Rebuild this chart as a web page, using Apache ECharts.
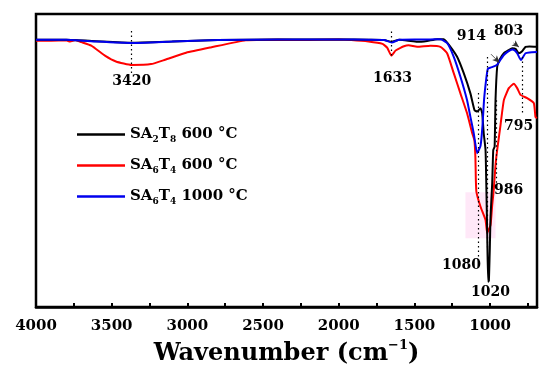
<!DOCTYPE html>
<html>
<head>
<meta charset="utf-8">
<script src="https://cdn.jsdelivr.net/npm/echarts@6/dist/echarts.min.js"></script>
<style>html,body{margin:0;padding:0;background:#fff}#c{width:550px;height:376px}</style>
</head>
<body>
<div id="c"></div>
<script>
const xTickValues = [750, 1000, 1250, 1500, 1750, 2000, 2250, 2500, 2750, 3000, 3250, 3500, 3750];
const xLabelValues = [1000, 1500, 2000, 2500, 3000, 3500, 4000];

const seriesNames = ['SA2T8 600 °C', 'SA6T4 600 °C', 'SA6T4 1000 °C'];

const blackX = [4000, 3800, 3600, 3370, 3100, 2800, 2400, 2000, 1800, 1700, 1650, 1600, 1540, 1482, 1416, 1350, 1306, 1262, 1218, 1174, 1130, 1103, 1085, 1063, 1052, 1042, 1030, 1025, 1019, 1013, 1008, 1002, 997, 986, 979, 970, 964, 953, 938, 909, 876, 854, 830, 810, 788, 766, 740, 690];
const blackY = [91.2, 91.2, 90.7, 90.2, 90.6, 91.1, 91.3, 91.3, 91.2, 91.1, 90.5, 91.2, 90.9, 90.5, 90.8, 91.4, 91.4, 88.8, 85.4, 79.8, 72.9, 67.2, 66.7, 67.8, 66.1, 59.3, 53.6, 42.0, 25.2, 8.6, 9.0, 19.5, 30.8, 42.2, 53.6, 54.7, 70.6, 82.0, 84.3, 86.6, 87.7, 88.3, 88.0, 86.6, 87.3, 88.8, 88.9, 88.8];

const redX = [4000, 3900, 3800, 3775, 3740, 3700, 3635, 3542, 3472, 3368, 3240, 3147, 3008, 2846, 2614, 2400, 2200, 2000, 1917, 1804, 1711, 1680, 1652, 1625, 1605, 1569, 1538, 1482, 1394, 1328, 1284, 1240, 1196, 1152, 1118, 1104, 1097, 1094, 1090, 1063, 1030, 1019, 997, 986, 976, 964, 953, 931, 909, 876, 843, 821, 799, 755, 711, 700, 690];
const redY = [90.9, 90.9, 91.0, 90.6, 91.1, 90.4, 89.2, 85.7, 83.8, 82.6, 82.9, 84.4, 86.8, 88.6, 91.0, 91.2, 91.1, 91.3, 91.1, 90.6, 89.8, 88.5, 85.8, 87.5, 88.1, 89.0, 89.3, 88.8, 89.2, 88.8, 86.6, 79.8, 72.9, 66.1, 59.3, 57.0, 51.2, 43.3, 39.2, 34.2, 29.7, 25.3, 28.0, 34.8, 39.9, 48.5, 53.6, 62.1, 70.6, 74.7, 76.2, 74.7, 72.4, 71.3, 69.6, 64.8, 64.5];

const blueX = [4000, 3800, 3600, 3370, 3100, 2800, 2400, 2000, 1800, 1700, 1650, 1600, 1500, 1400, 1328, 1284, 1240, 1196, 1152, 1130, 1108, 1085, 1063, 1050, 1040, 1025, 1015, 997, 970, 953, 930, 909, 887, 865, 854, 835, 821, 805, 795, 780, 766, 740, 690];
const blueY = [91.2, 91.2, 90.6, 90.1, 90.6, 91.1, 91.3, 91.3, 91.2, 91.1, 90.3, 91.2, 91.3, 91.3, 91.4, 90.1, 85.4, 78.6, 70.6, 64.9, 59.3, 52.5, 55.0, 62.0, 70.6, 78.0, 81.3, 81.7, 82.2, 82.7, 84.5, 86.0, 87.0, 87.7, 87.9, 87.5, 86.6, 85.0, 84.3, 85.5, 86.6, 86.9, 87.0];

// peak annotations: label text, label position [wavenumber, value]
const peakLabels = ['3420', '1633', '914', '803', '795', '986', '1080', '1020'];
const peakLabelX = [3368, 1645, 1123, 878, 812, 878, 1189, 997];
const peakLabelY = [77.1, 78.2, 92.2, 94.2, 61.8, 39.9, 14.3, 5.1];

// dotted guide lines: wavenumber, from value, to value
const guideX = [3368, 1650, 1077, 1017, 962, 788];
const guideFrom = [94.2, 94.0, 73.0, 85.3, 70.6, 85.3];
const guideTo = [79.5, 85.3, 16.0, 19.5, 42.3, 65.5];

// arrows: [x1, y1, x2, y2]
const arrow914 = [994, 86.3, 938, 83.4];
const arrow803 = [845, 90.1, 809, 88.7];

const zip = (xs, ys) => xs.map((x, i) => [x, ys[i]]);

const chart = echarts.init(document.getElementById('c'), null, {renderer: 'canvas'});
const serif = '"DejaVu Serif", "Liberation Serif", serif';

const legendRich = {
  a: {fontFamily: serif, fontWeight: 'bold', fontSize: 15, color: '#000', lineHeight: 20},
  s: {fontFamily: serif, fontWeight: 'bold', fontSize: 9, color: '#000', lineHeight: 10, verticalAlign: 'bottom'}
};
const legendFmt = {
  'SA2T8 600 °C': '{a|SA}{s|2}{a|T}{s|8}{a| 600 °C}',
  'SA6T4 600 °C': '{a|SA}{s|6}{a|T}{s|4}{a| 600 °C}',
  'SA6T4 1000 °C': '{a|SA}{s|6}{a|T}{s|4}{a| 1000 °C}'
};

const guideLines = guideX.map((x, i) => [{coord: [x, guideFrom[i]]}, {coord: [x, guideTo[i]]}]);

const option = {
  animation: false,
  backgroundColor: '#fff',
  grid: {left: 36, right: 13, top: 14, bottom: 69, show: true, borderColor: '#000', borderWidth: 2.5, backgroundColor: 'transparent'},
  legend: {
    left: 77, top: 127, orient: 'vertical', padding: 0, icon: 'rect', itemWidth: 48, itemHeight: 2.5, itemGap: 13.5,
    data: [seriesNames[0], seriesNames[1], seriesNames[2]],
    formatter: n => legendFmt[n],
    textStyle: {rich: legendRich}
  },
  xAxis: {
    type: 'value', min: 690, max: 4000, inverse: true,
    axisLine: {show: true, lineStyle: {color: '#000', width: 2.5}},
    axisTick: {show: true, inside: true, length: 4, lineStyle: {color: '#000', width: 2}, customValues: xTickValues},
    axisLabel: {customValues: xLabelValues, margin: 12, fontFamily: serif, fontWeight: 'bold', fontSize: 15, color: '#000', formatter: v => String(v)},
    splitLine: {show: false},
    name: '{n|Wavenumber (cm}{p|−1}{n|)}',
    nameLocation: 'middle', nameGap: 31,
    nameTextStyle: {rich: {
      n: {fontFamily: serif, fontWeight: 'bold', fontSize: 24, color: '#000', lineHeight: 30},
      p: {fontFamily: serif, fontWeight: 'bold', fontSize: 13, color: '#000', lineHeight: 14, verticalAlign: 'top'}
    }}
  },
  yAxis: {
    type: 'value', min: 0, max: 100,
    axisLine: {show: false}, axisTick: {show: false}, axisLabel: {show: false}, splitLine: {show: false}
  },
  series: [
    {
      name: seriesNames[1], type: 'line', data: zip(redX, redY), symbol: 'none', smooth: 0.15,
      lineStyle: {color: '#ff0000', width: 2}, itemStyle: {color: '#ff0000'}, z: 2,
      markArea: {silent: true, itemStyle: {color: 'rgba(255,190,235,0.35)'}, data: [[{coord: [1163, 39.2]}, {coord: [964, 23.5]}]]}
    },
    {
      name: seriesNames[0], type: 'line', data: zip(blackX, blackY), symbol: 'none', smooth: 0.15,
      lineStyle: {color: '#000', width: 2}, itemStyle: {color: '#000'}, z: 3
    },
    {
      name: seriesNames[2], type: 'line', data: zip(blueX, blueY), symbol: 'none', smooth: 0.15,
      lineStyle: {color: '#0000ee', width: 2}, itemStyle: {color: '#0000ee'}, z: 4
    },
    {
      name: 'annotations', type: 'line', data: [], z: 5,
      markLine: {
        silent: true, symbol: ['none', 'none'], label: {show: false},
        lineStyle: {color: '#000', type: [1.5, 3], width: 1.2},
        data: guideLines.concat([
          [{coord: [arrow914[0], arrow914[1]], symbol: 'none', lineStyle: {type: 'solid', width: 0.8, color: '#333'}},
           {coord: [arrow914[2], arrow914[3]], symbol: 'arrow', symbolSize: [5, 7]}],
          [{coord: [arrow803[0], arrow803[1]], symbol: 'none', lineStyle: {type: 'solid', width: 0.8, color: '#333'}},
           {coord: [arrow803[2], arrow803[3]], symbol: 'arrow', symbolSize: [5, 7]}]
        ])
      },
      markPoint: {
        silent: true, symbol: 'circle', symbolSize: 0,
        label: {show: true, position: 'inside', fontFamily: serif, fontWeight: 'bold', fontSize: 14, color: '#000', formatter: p => p.name},
        data: peakLabels.map((t, i) => ({name: t, coord: [peakLabelX[i], peakLabelY[i]]}))
      }
    }
  ]
};
chart.setOption(option);
</script>
</body>
</html>
